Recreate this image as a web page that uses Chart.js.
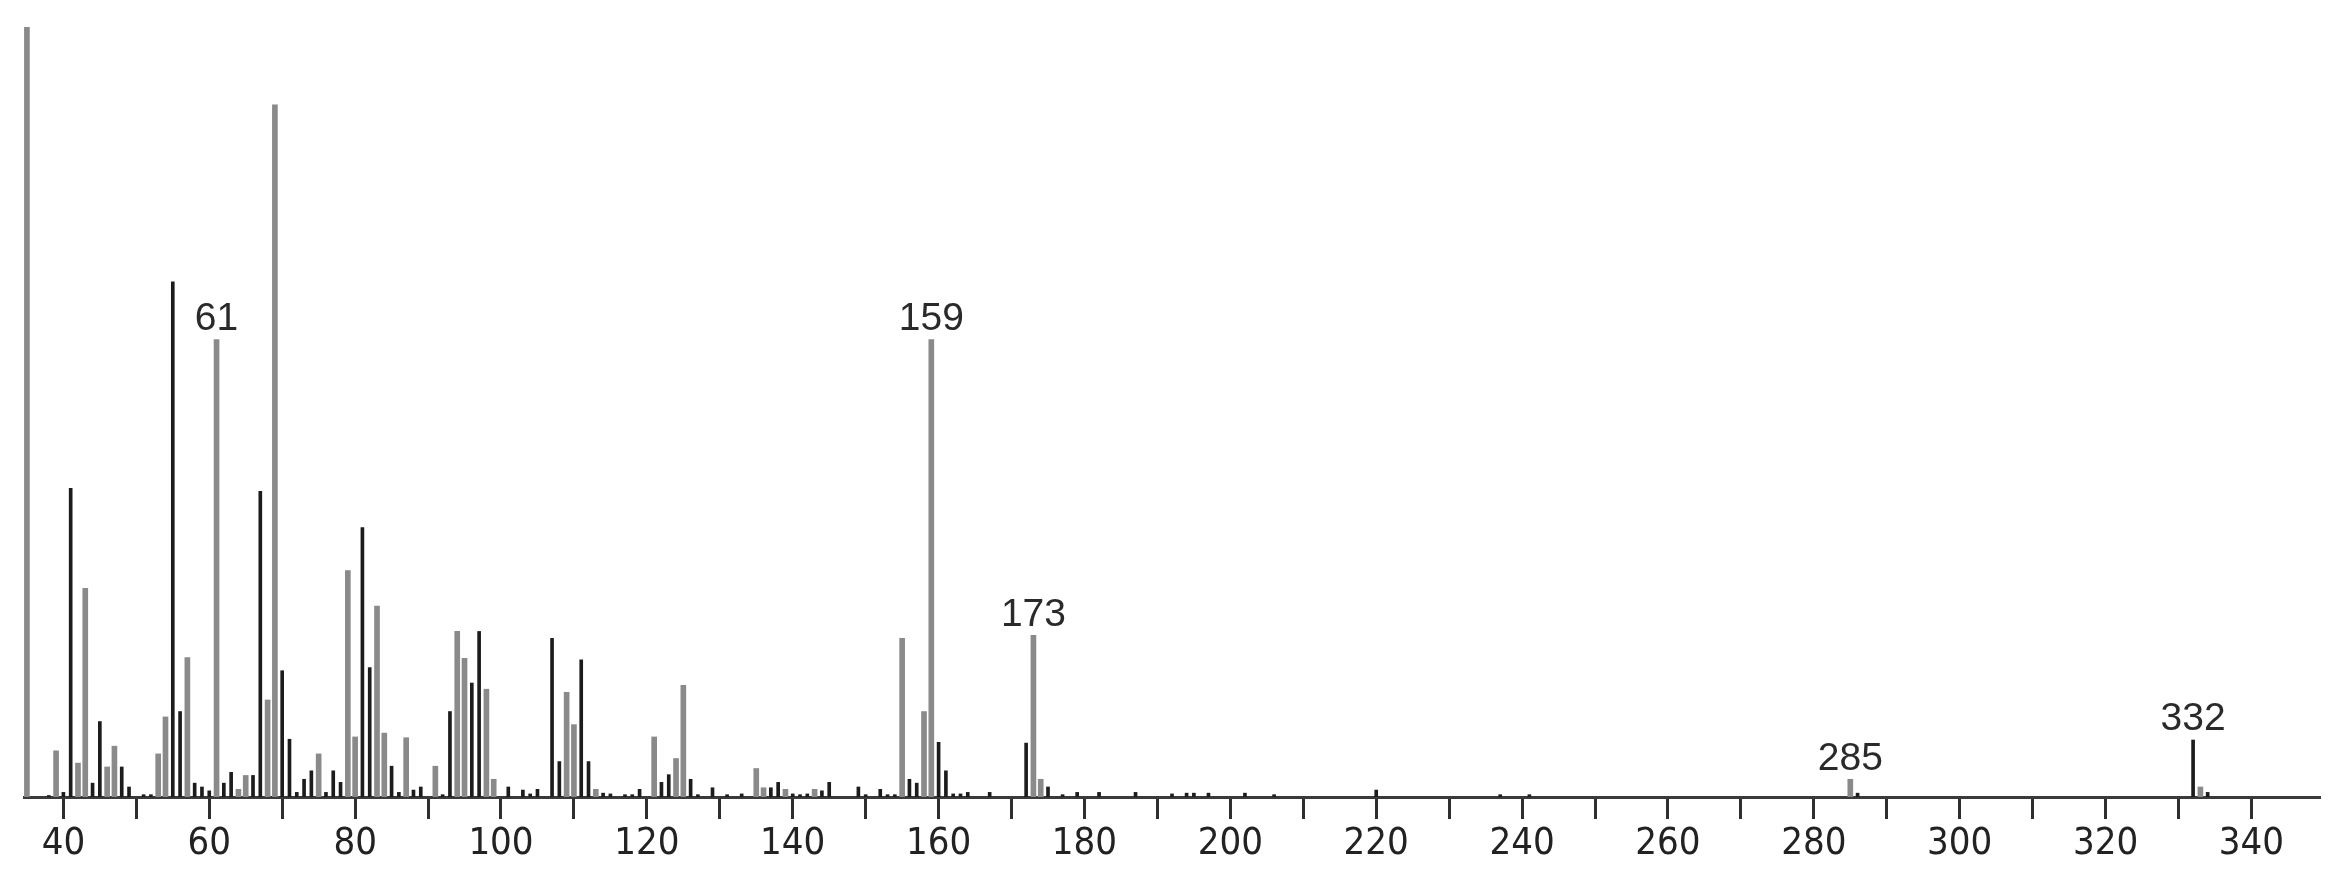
<!DOCTYPE html>
<html>
<head>
<meta charset="utf-8">
<script src="https://cdn.jsdelivr.net/npm/chart.js@4.4.1/dist/chart.umd.min.js"></script>
<style>
  html, body { margin: 0; padding: 0; background: #fff; }
  canvas { display: block; }
</style>
</head>
<body>
<canvas id="espectro" width="2338" height="880"></canvas>
<script>
// m/z and relative intensity, two tones as in the printed spectrum
const masasGris = [35, 39, 42, 43, 46, 47, 53, 54, 57, 61, 64, 65, 68, 69, 75, 79, 80, 83, 84, 87, 91, 94, 95, 98, 99,
  109, 110, 113, 121, 124, 125, 135, 136, 139, 143, 155, 158, 159, 173, 174, 285, 333];
const intensGris = [100, 6.0, 4.4, 27.1, 3.9, 6.6, 5.6, 10.4, 18.1, 59.4, 1.0, 2.8, 12.6, 89.9, 5.6, 29.4, 7.8, 24.8, 8.3, 7.7, 4.0, 21.5, 18.0, 14.0, 2.3,
  13.6, 9.4, 1.0, 7.8, 5.0, 14.5, 3.7, 1.2, 1.0, 1.0, 20.6, 11.1, 59.4, 21.0, 2.3, 2.3, 1.3];

const masasNegro = [38, 40, 41, 44, 45, 48, 49, 51, 52, 55, 56, 58, 59, 60, 62, 63, 66, 67, 70, 71, 72, 73, 74, 76, 77, 78,
  81, 82, 85, 86, 88, 89, 92, 93, 96, 97, 101, 103, 104, 105, 107, 108, 111, 112, 114, 115, 117, 118, 119,
  122, 123, 126, 127, 129, 131, 133, 137, 138, 140, 141, 142, 144, 145, 149, 150, 152, 153, 154, 156, 157,
  160, 161, 162, 163, 164, 167, 172, 175, 177, 179, 182, 187, 192, 194, 195, 197, 202, 206, 220, 237, 241,
  286, 332, 334];
const intensNegro = [0.2, 0.6, 40.1, 1.8, 9.8, 3.9, 1.3, 0.3, 0.3, 66.9, 11.1, 1.8, 1.3, 0.8, 1.8, 3.2, 2.8, 39.7, 16.4, 7.5, 0.6, 2.3, 3.4, 0.6, 3.4, 1.9,
  35.0, 16.8, 4.0, 0.6, 0.9, 1.3, 0.3, 11.1, 14.8, 21.5, 1.3, 0.9, 0.4, 1.0, 20.6, 4.6, 17.8, 4.6, 0.5, 0.4, 0.3, 0.3, 1.0,
  1.9, 2.9, 2.3, 0.3, 1.2, 0.3, 0.4, 1.2, 1.9, 0.4, 0.3, 0.4, 0.8, 1.9, 1.3, 0.3, 1.0, 0.3, 0.3, 2.3, 1.8,
  7.1, 3.4, 0.4, 0.4, 0.6, 0.6, 7.0, 1.3, 0.3, 0.6, 0.6, 0.6, 0.4, 0.5, 0.5, 0.5, 0.5, 0.3, 0.9, 0.3, 0.3,
  0.5, 7.4, 0.6];

// peaks with a number on top
const picosMarcados = [61, 159, 173, 285, 332];

function intensidadDe(m) {
    let i = masasGris.indexOf(m);
    if (i >= 0) return intensGris[i];
    i = masasNegro.indexOf(m);
    return i >= 0 ? intensNegro[i] : 0;
}

const etiquetasPicos = {
    id: 'etiquetasPicos',
    afterDatasetsDraw(chart) {
        const ctx = chart.ctx;
        const x = chart.scales.x, y = chart.scales.y;
        ctx.save();
        ctx.font = '39px "Liberation Sans", Arial, sans-serif';
        ctx.fillStyle = '#2a2a2a';
        ctx.textAlign = 'center';
        ctx.textBaseline = 'bottom';
        picosMarcados.forEach((m) => {
            ctx.fillText(String(m), x.getPixelForValue(m), y.getPixelForValue(intensidadDe(m)) - 1);
        });
        ctx.restore();
    }
};

function crearEspectro(contenedor) {
    let canvas = document.getElementById(contenedor);
    new Chart(canvas, {
        type: 'bar',
        data: {
            datasets: [
                {
                    label: 'gris',
                    data: masasGris.map((m, i) => ({ x: m, y: intensGris[i] })),
                    backgroundColor: '#8a8a8a',
                    barThickness: 5,
                    order: 2
                },
                {
                    label: 'negro',
                    data: masasNegro.map((m, i) => ({ x: m, y: intensNegro[i] })),
                    backgroundColor: '#1c1c1c',
                    barThickness: 3,
                    order: 1
                }
            ]
        },
        options: {
            responsive: false,
            animation: false,
            grouped: false,
            layout: { padding: { left: 24, right: 18, top: 27, bottom: 0 } },
            plugins: { legend: { display: false }, tooltip: { enabled: false } },
            scales: {
                x: {
                    type: 'linear',
                    min: 34.6,
                    max: 349.4,
                    offset: false,
                    afterFit: (s) => { s.height = 83; },
                    border: { display: true, color: '#3a3a3a', width: 3 },
                    grid: {
                        offset: false,
                        drawOnChartArea: false,
                        drawTicks: true,
                        tickLength: 22,
                        tickWidth: 3,
                        tickColor: '#2e2e2e'
                    },
                    ticks: {
                        stepSize: 10,
                        includeBounds: false,
                        autoSkip: false,
                        maxRotation: 0,
                        padding: 2,
                        color: '#222',
                        font: { family: '"Liberation Sans Narrow", "DejaVu Sans Condensed", "Arial Narrow", sans-serif', size: 38 },
                        callback: (v) => (v % 20 === 0 ? String(v) : '')
                    }
                },
                y: {
                    display: false,
                    min: 0,
                    max: 100
                }
            }
        },
        plugins: [etiquetasPicos]
    });
}

crearEspectro('espectro');
</script>
</body>
</html>
